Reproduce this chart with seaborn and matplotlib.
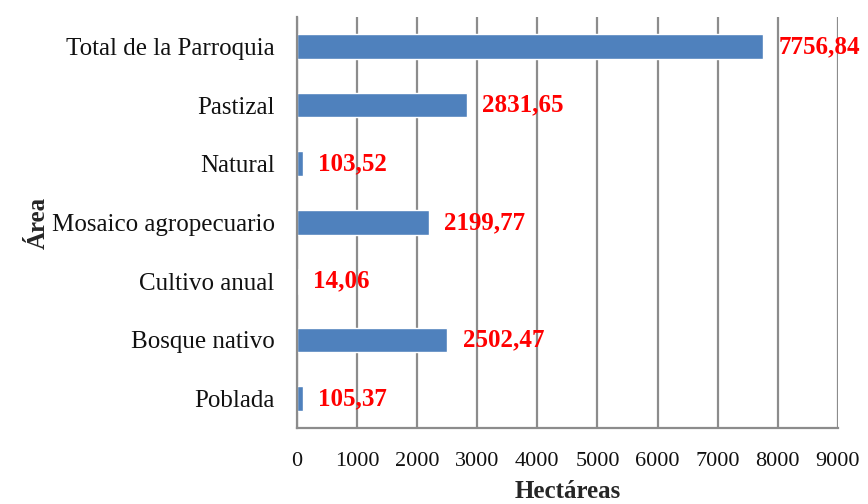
import matplotlib
matplotlib.use("Agg")
import matplotlib.pyplot as plt
import seaborn as sns
import pandas as pd
from matplotlib.ticker import FixedLocator

categories = ["Total de la Parroquia", "Pastizal", "Natural", "Mosaico agropecuario",
              "Cultivo anual", "Bosque nativo", "Poblada"]
values = [7756.84, 2831.65, 103.52, 2199.77, 14.06, 2502.47, 105.37]
labels = ["7756,84", "2831,65", "103,52", "2199,77", "14,06", "2502,47", "105,37"]
xticks = [0, 1000, 2000, 3000, 4000, 5000, 6000, 7000, 8000, 9000]

sns.set_theme(style="white")
plt.rcParams["font.family"] = ["Liberation Serif", "DejaVu Serif"]

df = pd.DataFrame({"Área": categories, "Hectáreas": values})

fig = plt.figure(figsize=(8.68, 5.04), dpi=100)
ax = fig.add_axes([0.342, 0.1508, 0.6234, 0.8155])

grid_c = "#8c8c8c"
for x in xticks:
    ax.axvline(x, color=grid_c, lw=1.6, zorder=0)

sns.barplot(data=df, y="Área", x="Hectáreas", orient="h", color="#4F81BD",
            saturation=1, width=0.42, ax=ax, zorder=2)

for i, (v, t) in enumerate(zip(values, labels)):
    ax.annotate(t, xy=(v, i), xytext=(11, 0), textcoords="offset points",
                ha="left", va="center", color="#FF0000", fontsize=18,
                fontweight="bold", zorder=3)

ax.set_xlim(0, 9000)
ax.set_ylim(6.5, -0.5)
ax.set_xticks(xticks)
ax.set_xticklabels([str(x) for x in xticks], fontsize=16, color="#111111")
ax.tick_params(axis="x", length=6, width=1.6, color=grid_c, direction="out", pad=11)
ax.tick_params(axis="y", which="major", length=0, pad=16, labelsize=18, labelcolor="#111111")
ax.yaxis.set_minor_locator(FixedLocator([i - 0.5 for i in range(8)]))
ax.tick_params(axis="y", which="minor", length=8, width=1.6, color=grid_c, direction="out")

for s in ["top", "right"]:
    ax.spines[s].set_visible(False)
for s in ["left", "bottom"]:
    ax.spines[s].set_color(grid_c)
    ax.spines[s].set_linewidth(1.6)

ax.set_xlabel("Hectáreas", fontsize=18, fontweight="bold", labelpad=7)
ax.set_ylabel("Área", fontsize=18, fontweight="bold", labelpad=1)

fig.savefig("out.png", dpi=100)
